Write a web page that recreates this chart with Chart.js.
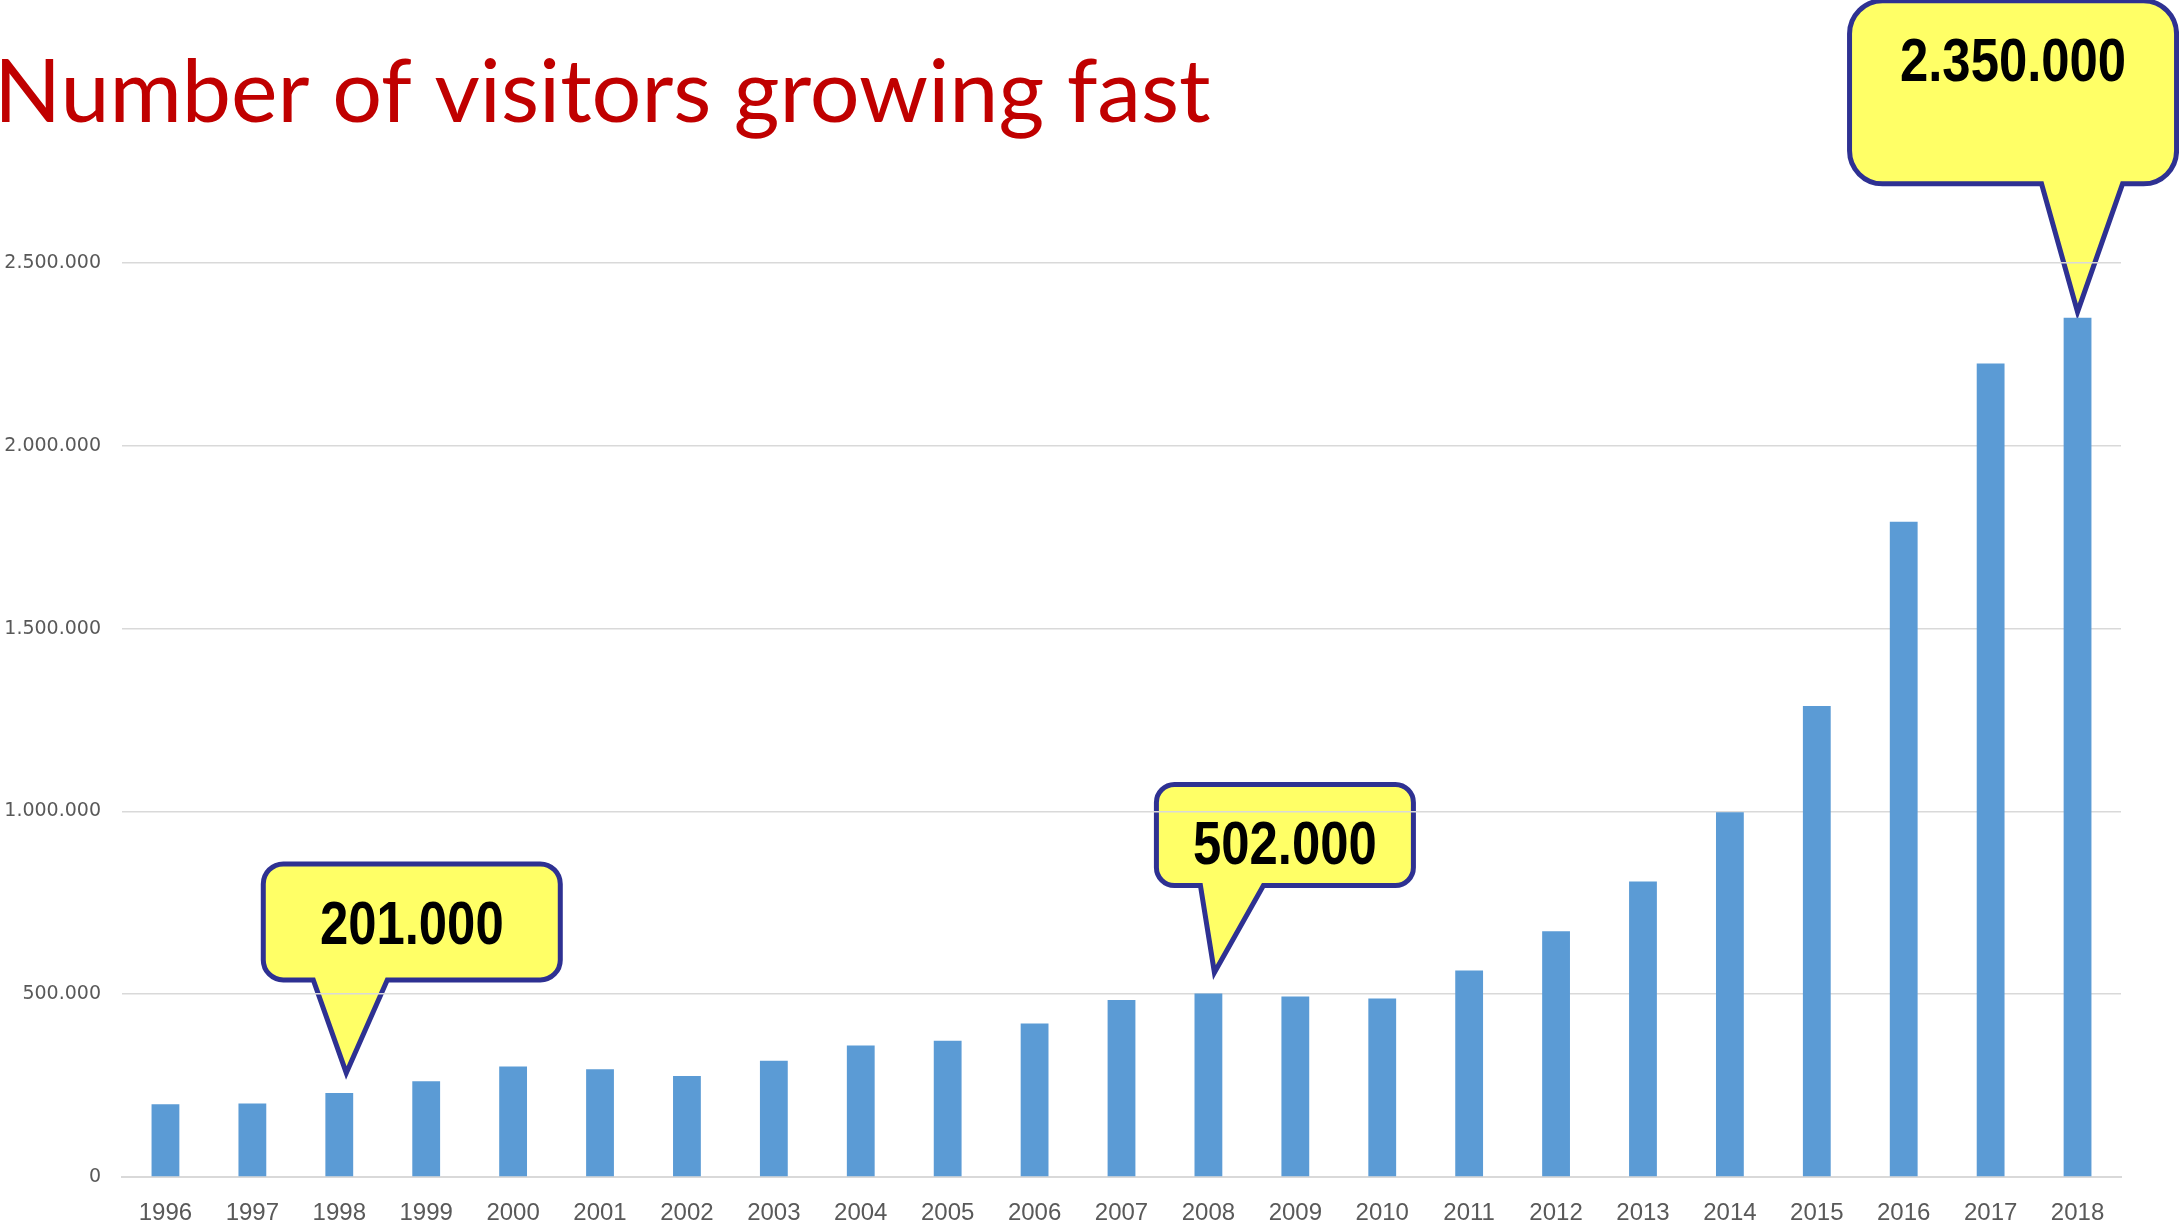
<!DOCTYPE html>
<html>
<head>
<meta charset="utf-8">
<script src="https://cdn.jsdelivr.net/npm/chart.js@4.4.1/dist/chart.umd.min.js"></script>
<style>
  html, body { margin: 0; padding: 0; background: #fff; }
  #wrap { width: 2179px; height: 1227px; }
</style>
</head>
<body>
<div id="wrap"><canvas id="bars" width="2179" height="1227"></canvas></div>
<script>
// data
const years = ['1996', '1997', '1998', '1999', '2000', '2001', '2002', '2003', '2004', '2005', '2006', '2007',
               '2008', '2009', '2010', '2011', '2012', '2013', '2014', '2015', '2016', '2017', '2018'];
const visitors = [199000, 201000, 230000, 262000, 302000, 295000, 276000, 318000, 360000, 373000, 420000, 484000,
                  502000, 494000, 488000, 565000, 672000, 808000, 998000, 1288000, 1792000, 2225000, 2350000];
const yTicks = [0, 500000, 1000000, 1500000, 2000000, 2500000];
const titleText = 'Number of visitors growing fast';
const calloutYears = ['1998', '2008', '2018'];
const calloutTexts = ['201.000', '502.000', '2.350.000'];

// callout shapes, relative to the tip
const calloutShape = [
    { dx: 7, lift: 20, left: -83, right: 214, top: -209, bottom: -93, tailL: -33, tailR: 41, r: 20 },
    { dx: 6, lift: 21, left: -58, right: 199, top: -188, bottom: -87, tailL: -14, tailR: 49, r: 18 },
    { dx: 0, lift: 6, left: -228, right: 99, top: -311, bottom: -128, tailL: -36, tailR: 45, r: 33 },
];

function dots(v) {
    return String(v).replace(/\B(?=(\d{3})+(?!\d))/g, '.');
}

function drawCallout(ctx, tx, ty, s, text) {
    const L = tx + s.left, R = tx + s.right, T = ty + s.top, B = ty + s.bottom, r = s.r;
    ctx.beginPath();
    ctx.moveTo(L + r, T);
    ctx.lineTo(R - r, T);
    ctx.arcTo(R, T, R, T + r, r);
    ctx.lineTo(R, B - r);
    ctx.arcTo(R, B, R - r, B, r);
    ctx.lineTo(tx + s.tailR, B);
    ctx.lineTo(tx, ty);
    ctx.lineTo(tx + s.tailL, B);
    ctx.lineTo(L + r, B);
    ctx.arcTo(L, B, L, B - r, r);
    ctx.lineTo(L, T + r);
    ctx.arcTo(L, T, L + r, T, r);
    ctx.closePath();
    ctx.fillStyle = '#FFFF66';
    ctx.fill();
    ctx.lineWidth = 5;
    ctx.lineJoin = 'miter';
    ctx.strokeStyle = '#2E3192';
    ctx.stroke();

    // narrow bold look: Liberation Sans bold squeezed to 82%
    ctx.fillStyle = '#000';
    ctx.font = 'bold 62px "Liberation Sans", Arial, sans-serif';
    ctx.textAlign = 'center';
    ctx.textBaseline = 'alphabetic';
    const w = ctx.measureText(text).width * 0.82;
    ctx.fillText(text, (L + R) / 2, T + 80, w);
}

const decor = {
    id: 'decor',
    beforeDraw(chart) {
        const ctx = chart.ctx;
        ctx.save();
        ctx.fillStyle = '#fff';
        ctx.fillRect(0, 0, chart.width, chart.height);

        // title
        ctx.fillStyle = '#C00000';
        ctx.font = '88px Lato, "Open Sans", sans-serif';
        ctx.textAlign = 'left';
        ctx.textBaseline = 'alphabetic';
        ctx.fillText(titleText, -6, 122);

        // callouts (grid lines are drawn over them, like the original)
        const xs = chart.scales.x, ys = chart.scales.y;
        calloutYears.forEach((yr, i) => {
            const idx = years.indexOf(yr);
            const s = calloutShape[i];
            const tx = xs.getPixelForValue(idx) + s.dx;
            const ty = ys.getPixelForValue(visitors[idx]) - s.lift;
            drawCallout(ctx, tx, ty, s, calloutTexts[i]);
        });
        ctx.restore();
    }
};

const barConfig = {
    type: 'bar',
    data: {
        labels: years,
        datasets: [{
            label: 'Visitors',
            backgroundColor: '#5B9BD5',
            borderWidth: 0,
            barPercentage: 0.32,
            categoryPercentage: 1,
            data: visitors,
        }],
    },
    options: {
        responsive: false,
        animation: false,
        devicePixelRatio: 1,
        layout: {
            padding: { top: 263, right: 58, bottom: 0, left: 0 },
        },
        plugins: {
            legend: { display: false },
            tooltip: { enabled: false },
        },
        scales: {
            x: {
                grid: { display: false, drawTicks: false },
                border: { color: '#D9D9D9', width: 2 },
                ticks: {
                    color: '#595959',
                    padding: 22,
                    maxRotation: 0,
                    autoSkip: false,
                    font: { family: '"Liberation Sans", Arial, sans-serif', size: 24 },
                },
                afterFit(scale) { scale.height = 50; },
            },
            y: {
                min: yTicks[0],
                max: yTicks[yTicks.length - 1],
                grid: { color: '#D9D9D9', lineWidth: 1.5, drawTicks: false },
                border: { display: false },
                ticks: {
                    stepSize: yTicks[1] - yTicks[0],
                    color: '#595959',
                    padding: 21,
                    font: { family: '"DejaVu Sans", Verdana, sans-serif', size: 19 },
                    callback: (v) => dots(v),
                },
                afterFit(scale) { scale.width = 122; },
            },
        },
    },
    plugins: [decor],
};

const barsCtx = document.getElementById('bars');
window.myBar = new Chart(barsCtx, barConfig);
</script>
</body>
</html>
